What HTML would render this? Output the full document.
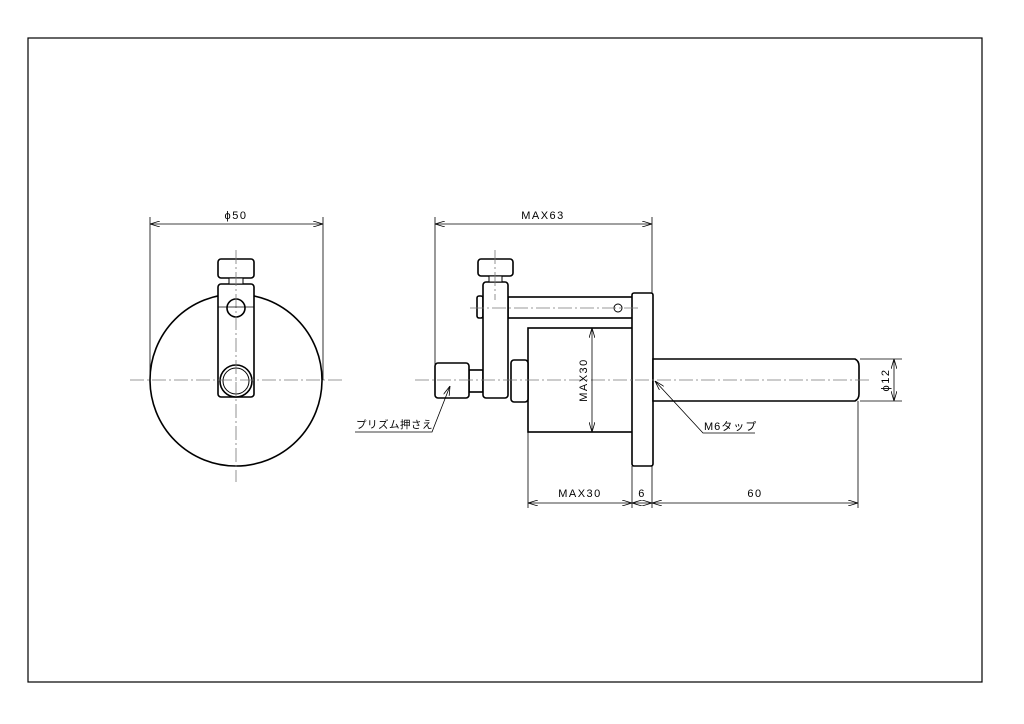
<!DOCTYPE html>
<html><head><meta charset="utf-8"><style>
html,body{margin:0;padding:0;background:#fff}
svg{display:block}
text{font-family:"Liberation Sans","Noto Sans CJK JP",sans-serif;font-size:11px;fill:#000;letter-spacing:1.5px}
</style></head><body>
<svg width="1024" height="724" viewBox="0 0 1024 724" xmlns="http://www.w3.org/2000/svg">
<defs>
<marker id="a" viewBox="0 0 10 6" refX="10" refY="3" markerWidth="10" markerHeight="6" orient="auto-start-reverse" markerUnits="userSpaceOnUse"><path d="M0,0L10,3L0,6" fill="none" stroke="#000" stroke-width="0.8"/></marker>
</defs>
<rect x="28" y="38" width="954" height="644" fill="none" stroke="#000" stroke-width="1.2"/>
<g stroke="#000" stroke-width="1.6" fill="#fff">
<circle cx="236" cy="380" r="86"/>
<rect x="218" y="284" width="36" height="113" rx="3"/>
<rect x="218" y="259" width="36" height="19" rx="3"/>
<rect x="229" y="278" width="14" height="6" stroke-width="1"/>
<circle cx="236" cy="308" r="9"/>
<circle cx="236" cy="381" r="16"/>
<circle cx="236" cy="381" r="13" stroke-width="1"/>
<rect x="508" y="297" width="125" height="21"/>
<rect x="528" y="328" width="105" height="104"/>
<rect x="632" y="293" width="21" height="173" rx="2"/>
<path d="M653,359 H855 Q859,361 859,366 V394 Q859,399 855,401 H653 Z"/>
<rect x="511" y="360" width="17" height="42" rx="3"/>
<rect x="469" y="370" width="14" height="22"/>
<rect x="477" y="296" width="6" height="22" rx="2"/>
<rect x="483" y="282" width="25" height="116" rx="3"/>
<rect x="478" y="259" width="35" height="17" rx="3"/>
<rect x="489" y="276" width="13" height="6" stroke-width="1"/>
<rect x="435" y="363" width="34" height="35" rx="3"/>
<circle cx="618" cy="308" r="4" stroke-width="1"/>
</g>
<g stroke="#777" stroke-width="0.8" stroke-dasharray="14,3,2,3" fill="none">
<line x1="130" y1="380" x2="345" y2="380"/>
<line x1="236" y1="250" x2="236" y2="482"/>
<line x1="415" y1="380" x2="870" y2="380"/>
<line x1="495" y1="250" x2="495" y2="300"/>
<line x1="470" y1="308" x2="640" y2="308"/>
</g>
<g stroke="#000" stroke-width="0.8" fill="none">
<line x1="218" y1="307" x2="254" y2="307"/>
<line x1="150" y1="217" x2="150" y2="380"/>
<line x1="323" y1="217" x2="323" y2="380"/>
<line x1="150" y1="224" x2="323" y2="224" marker-start="url(#a)" marker-end="url(#a)"/>
<line x1="435" y1="217" x2="435" y2="365"/>
<line x1="652" y1="217" x2="652" y2="293"/>
<line x1="435" y1="224" x2="652" y2="224" marker-start="url(#a)" marker-end="url(#a)"/>
<line x1="592" y1="328" x2="592" y2="432" marker-start="url(#a)" marker-end="url(#a)"/>
<line x1="860" y1="359" x2="902" y2="359"/>
<line x1="860" y1="401" x2="902" y2="401"/>
<line x1="894" y1="359" x2="894" y2="401" marker-start="url(#a)" marker-end="url(#a)"/>
<line x1="528" y1="432" x2="528" y2="508"/>
<line x1="632" y1="466" x2="632" y2="508"/>
<line x1="652" y1="466" x2="652" y2="508"/>
<line x1="858" y1="401" x2="858" y2="508"/>
<line x1="528" y1="503" x2="632" y2="503" marker-start="url(#a)" marker-end="url(#a)"/>
<line x1="632" y1="503" x2="652" y2="503" marker-start="url(#a)" marker-end="url(#a)"/>
<line x1="652" y1="503" x2="858" y2="503" marker-start="url(#a)" marker-end="url(#a)"/>
<polyline points="355,432 432,432 450,386" marker-end="url(#a)"/>
<polyline points="755,433 703,433 655,381" marker-end="url(#a)"/>
</g>
<text x="236" y="219" text-anchor="middle">ϕ50</text>
<text x="543" y="219" text-anchor="middle">MAX63</text>
<text x="580" y="497" text-anchor="middle">MAX30</text>
<text x="642" y="497" text-anchor="middle">6</text>
<text x="755" y="497" text-anchor="middle">60</text>
<text transform="translate(587,380) rotate(-90)" text-anchor="middle">MAX30</text>
<text transform="translate(889,380) rotate(-90)" text-anchor="middle">ϕ12</text>
<text x="356" y="428" style="font-size:10.5px;letter-spacing:0.5px">プリズム押さえ</text>
<text x="704" y="430" style="font-size:11px;letter-spacing:1px">M6タップ</text>
</svg>
</body></html>
